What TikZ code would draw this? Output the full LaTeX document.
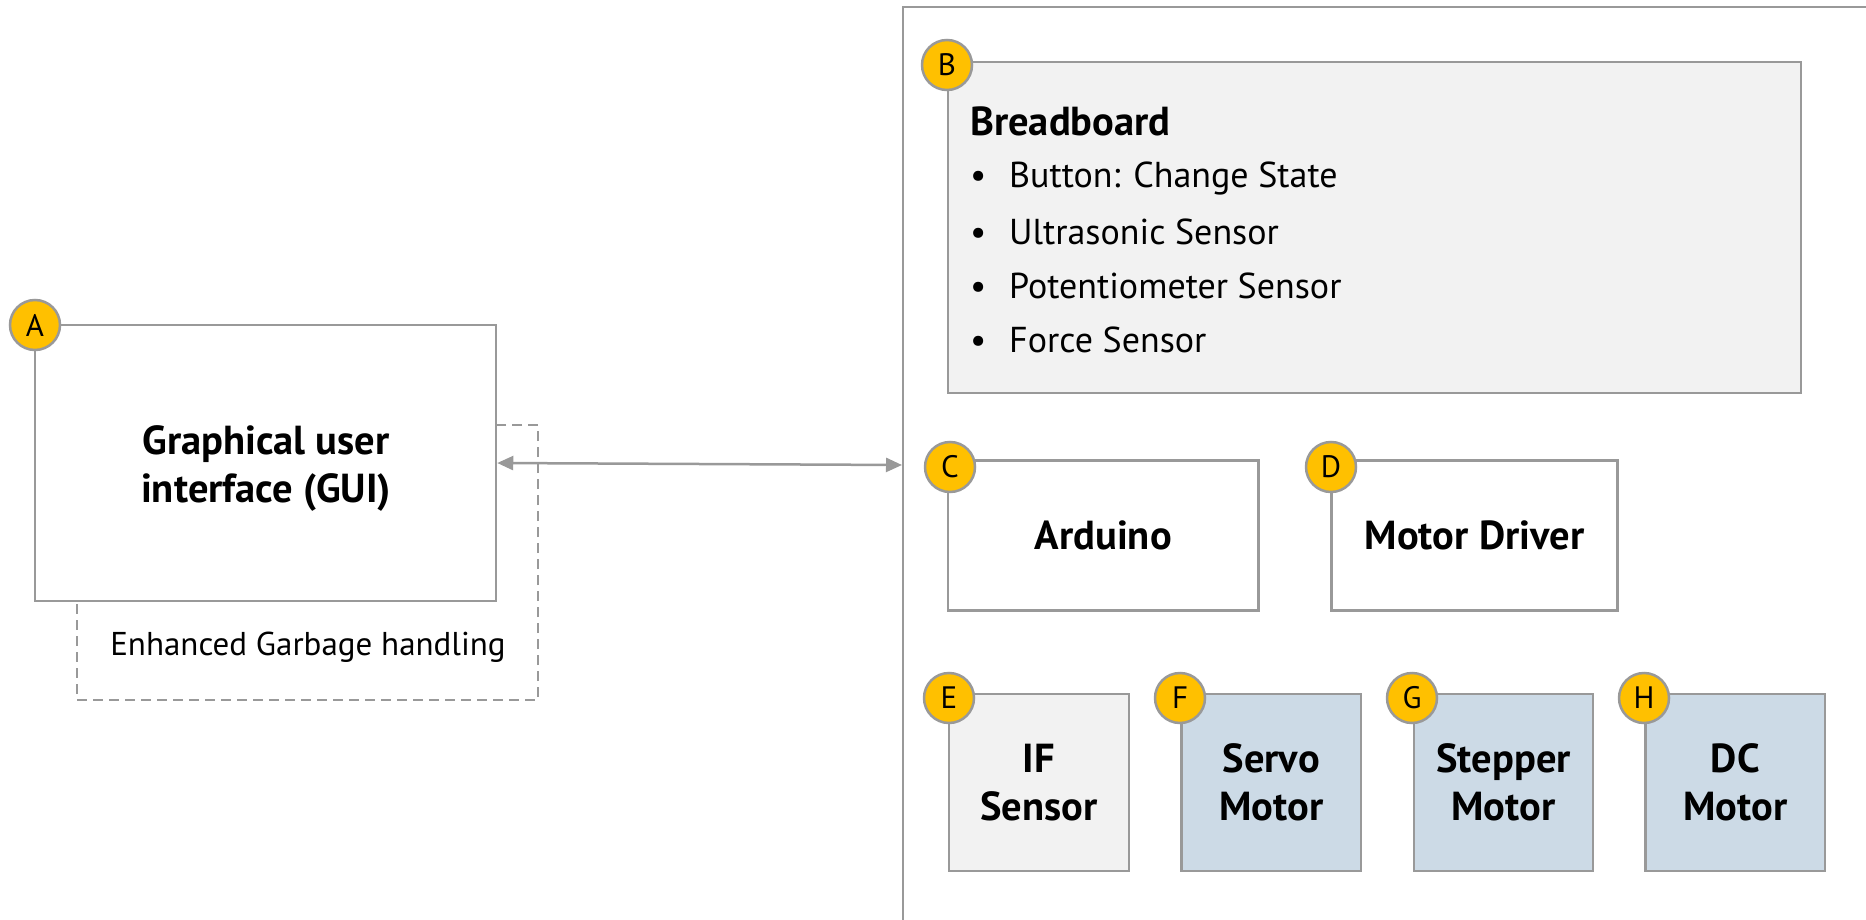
\documentclass[tikz,border=0pt]{standalone}
\usepackage{fontspec}
\setmainfont{PT Sans}
\usetikzlibrary{arrows.meta}
\definecolor{linegray}{HTML}{999999}
\definecolor{lightfill}{HTML}{F2F2F2}
\definecolor{motorfill}{HTML}{CCDAE6}
\definecolor{badgefill}{HTML}{FFC000}
\begin{document}
\begin{tikzpicture}[x=1pt,y=-1pt,
  box/.style={draw=linegray, line width=2.5pt, fill=white, inner sep=0pt, align=center,
    font=\fontsize{40.5}{47.5}\selectfont\bfseries},
  boldtext/.style={inner sep=0pt, align=center, font=\fontsize{40.5}{48}\selectfont\bfseries},
  dashbox/.style={draw=linegray, line width=2.5pt, dash pattern=on 10pt off 6pt, fill=white, inner sep=0pt},
  badge/.style={circle, draw=linegray, line width=2.5pt, fill=badgefill, minimum size=50pt, inner sep=0pt,
    font=\fontsize{31}{31}\selectfont},
  plain/.style={inner sep=0pt, anchor=west, font=\fontsize{36}{42}\selectfont},
  conn/.style={draw=linegray, line width=2.5pt, {Triangle[length=16pt,width=14pt]}-{Triangle[length=16pt,width=14pt]}}
]
\useasboundingbox (0,0) rectangle (1866,920);
\fill[white] (0,0) rectangle (1866,920);

% outer frame (open to right and bottom)
\draw[linegray, line width=2.5pt] (903,930) -- (903,7) -- (1880,7);
\coordinate (frameentry) at (902,465);

% left side
\node[dashbox, minimum width=461pt, minimum height=275pt] (garbage) at (307.5,562.5) {};
\node[box, minimum width=461pt, minimum height=276pt] (gui) at (265.5,463) {};
\node[boldtext] (guilabel) at (266,468) {Graphical user\\interface (GUI)};
\node[inner sep=0pt, font=\fontsize{33}{40}\selectfont] (garbagelabel) at (308,647) {Enhanced Garbage handling};
\node[badge] (ba) at (35,325) {A};

% breadboard
\node[box, fill=lightfill, minimum width=853pt, minimum height=331pt] (bb) at (1374.5,227.5) {};
\node[inner sep=0pt, anchor=west, font=\fontsize{40.5}{48}\selectfont\bfseries] (bbtitle) at (970,121) {Breadboard};
\node[plain] (bb1) at (970,179) {\makebox[39pt][l]{•}Button: Change State};
\node[plain] (bb2) at (970,232) {\makebox[39pt][l]{•}Ultrasonic Sensor};
\node[plain] (bb3) at (970,286) {\makebox[39pt][l]{•}Potentiometer Sensor};
\node[plain] (bb4) at (970,340) {\makebox[39pt][l]{•}Force Sensor};
\node[badge] (bbadge) at (947,65) {B};

% middle row
\node[box, minimum width=310.5pt, minimum height=150pt] (arduino) at (1103.25,535.5) {Arduino};
\node[badge] (bc) at (950,467) {C};
\node[box, minimum width=286pt, minimum height=150pt] (driver) at (1474.5,535.25) {Motor Driver};
\node[badge] (bd) at (1331,467) {D};

% bottom row
\node[box, fill=lightfill, minimum width=180pt, minimum height=177pt] (ifs) at (1039,782.5) {IF\\Sensor};
\node[badge] (be) at (949,698) {E};
\node[box, fill=motorfill, minimum width=179.5pt, minimum height=177pt] (servo) at (1271.25,782.5) {Servo\\Motor};
\node[badge] (bf) at (1180,698) {F};
\node[box, fill=motorfill, minimum width=179pt, minimum height=177pt] (stepper) at (1503.5,782.5) {Stepper\\Motor};
\node[badge] (bg) at (1412,698) {G};
\node[box, fill=motorfill, minimum width=179.5pt, minimum height=177pt] (dc) at (1735.25,782.5) {DC\\Motor};
\node[badge] (bh) at (1644,698) {H};

% connector
\draw[conn] (gui.east) -- (frameentry);
\end{tikzpicture}
\end{document}
